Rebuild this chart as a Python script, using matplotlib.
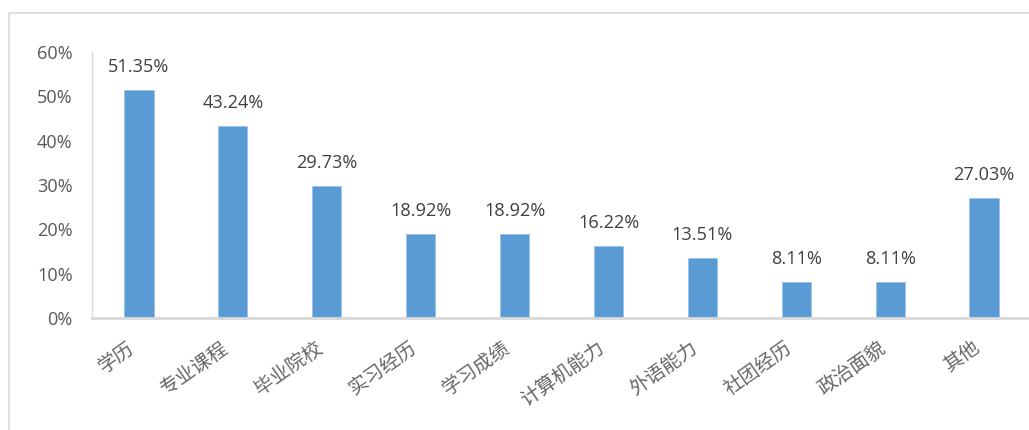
import matplotlib
matplotlib.use("Agg")
import matplotlib.pyplot as plt
from matplotlib.patches import Rectangle
from matplotlib.ticker import FuncFormatter

categories = ["学历", "专业课程", "毕业院校", "实习经历", "学习成绩",
              "计算机能力", "外语能力", "社团经历", "政治面貌", "其他"]
values = [51.35, 43.24, 29.73, 18.92, 18.92, 16.22, 13.51, 8.11, 8.11, 27.03]
y_ticks = [0, 10, 20, 30, 40, 50, 60]

W, H = 1029, 430
fig = plt.figure(figsize=(W / 100, H / 100), dpi=100)

# outer chart frame (runs past the right and bottom edges)
fig.patches.append(Rectangle((9 / W, -0.2), 1.2, 1 - 13 / H + 0.2,
                             transform=fig.transFigure, fill=False,
                             edgecolor="#D9D9D9", linewidth=1.2))

ax = fig.add_axes([92 / W, 112 / H, 939 / W, 266 / H])
x = list(range(len(categories)))
bars = ax.bar(x, values, width=0.31, color="#5B9BD5", edgecolor="#9DC3E6",
              linewidth=0.6)

ax.set_xlim(-0.5, len(categories) - 0.5)
ax.set_ylim(0, 60)
ax.set_yticks(y_ticks)
ax.yaxis.set_major_formatter(FuncFormatter(lambda v, p: f"{v:.0f}%"))

num_font = "Open Sans"
cjk_font = ["Noto Sans CJK SC", "DejaVu Sans"]

for lbl in ax.get_yticklabels():
    lbl.set_fontfamily(num_font)
ax.tick_params(axis="y", length=0, pad=14, labelsize=13.1, labelcolor="#595959")
ax.tick_params(axis="x", length=0, pad=14)
ax.set_xticks(x)
ax.set_xticklabels(categories, rotation=35, ha="right", va="top",
                   rotation_mode="default", fontsize=14, color="#666666",
                   family=cjk_font)

for spine in ("top", "right"):
    ax.spines[spine].set_visible(False)
ax.spines["left"].set_color("#D9D9D9")
ax.spines["left"].set_linewidth(1.0)
ax.spines["bottom"].set_color("#D9D9D9")
ax.spines["bottom"].set_linewidth(2.0)

for xi, v in zip(x, values):
    ax.annotate(f"{v:.2f}%", xy=(xi, v), xytext=(0, 10),
                textcoords="offset points", ha="center", va="bottom",
                fontsize=13.1, family=num_font, color="#404040")

fig.savefig("out.png", dpi=100)
